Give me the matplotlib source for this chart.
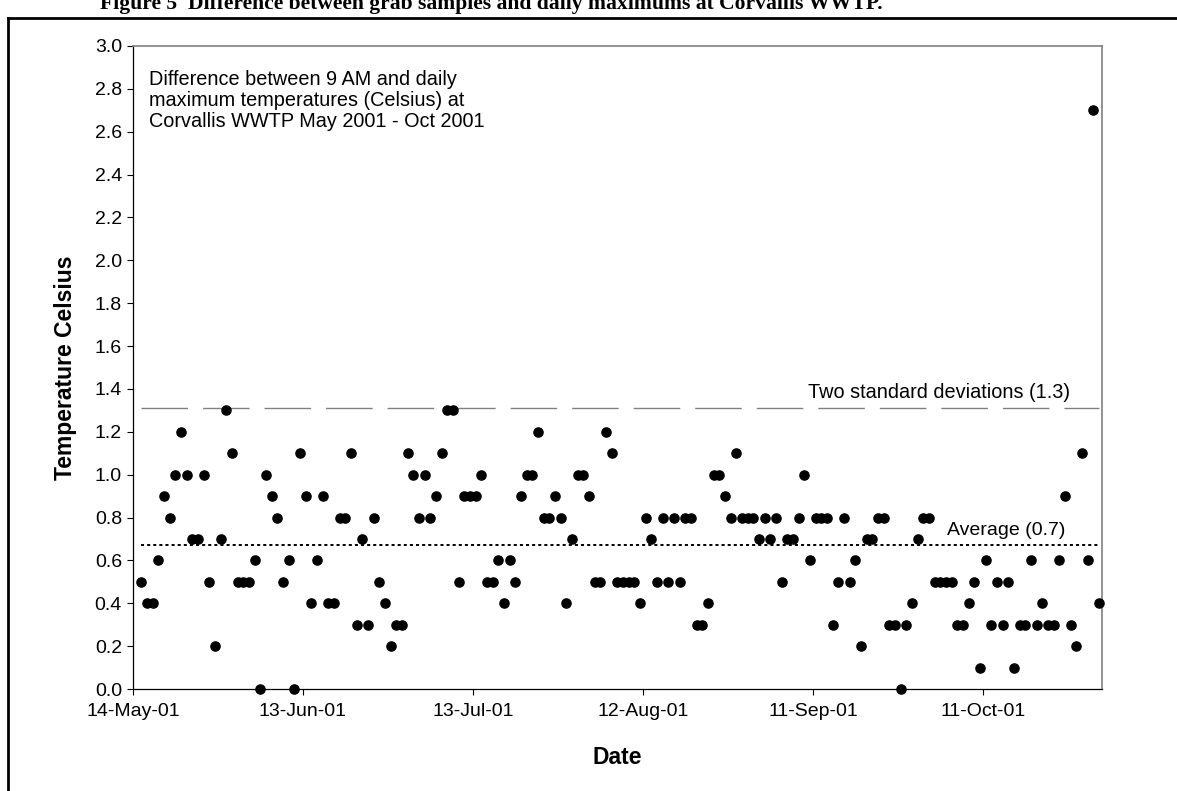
import matplotlib
matplotlib.use("Agg")
import matplotlib.pyplot as plt
import matplotlib.dates as mdates
from matplotlib.lines import Line2D
import numpy as np
import pandas as pd

plt.rcParams['font.family'] = ['Liberation Sans', 'DejaVu Sans']
plt.rcParams['lines.scale_dashes'] = False

# daily readings, 15-May-01 to 31-Oct-01
start_day = "2001-05-15"
diff_c = [0.5, 0.4, 0.4, 0.6, 0.9, 0.8, 1.0, 1.2, 1.0, 0.7,
          0.7, 1.0, 0.5, 0.2, 0.7, 1.3, 1.1, 0.5, 0.5, 0.5,
          0.6, 0.0, 1.0, 0.9, 0.8, 0.5, 0.6, 0.0, 1.1, 0.9,
          0.4, 0.6, 0.9, 0.4, 0.4, 0.8, 0.8, 1.1, 0.3, 0.7,
          0.3, 0.8, 0.5, 0.4, 0.2, 0.3, 0.3, 1.1, 1.0, 0.8,
          1.0, 0.8, 0.9, 1.1, 1.3, 1.3, 0.5, 0.9, 0.9, 0.9,
          1.0, 0.5, 0.5, 0.6, 0.4, 0.6, 0.5, 0.9, 1.0, 1.0,
          1.2, 0.8, 0.8, 0.9, 0.8, 0.4, 0.7, 1.0, 1.0, 0.9,
          0.5, 0.5, 1.2, 1.1, 0.5, 0.5, 0.5, 0.5, 0.4, 0.8,
          0.7, 0.5, 0.8, 0.5, 0.8, 0.5, 0.8, 0.8, 0.3, 0.3,
          0.4, 1.0, 1.0, 0.9, 0.8, 1.1, 0.8, 0.8, 0.8, 0.7,
          0.8, 0.7, 0.8, 0.5, 0.7, 0.7, 0.8, 1.0, 0.6, 0.8,
          0.8, 0.8, 0.3, 0.5, 0.8, 0.5, 0.6, 0.2, 0.7, 0.7,
          0.8, 0.8, 0.3, 0.3, 0.0, 0.3, 0.4, 0.7, 0.8, 0.8,
          0.5, 0.5, 0.5, 0.5, 0.3, 0.3, 0.4, 0.5, 0.1, 0.6,
          0.3, 0.5, 0.3, 0.5, 0.1, 0.3, 0.3, 0.6, 0.3, 0.4,
          0.3, 0.3, 0.6, 0.9, 0.3, 0.2, 1.1, 0.6, 2.7, 0.4]
average_c = 0.67
two_sd_c = 1.31

tick_dates = ["2001-05-14", "2001-06-13", "2001-07-13",
              "2001-08-12", "2001-09-11", "2001-10-11"]
x_min, x_max = "2001-05-14", "2001-11-01"

days = pd.date_range(start_day, periods=len(diff_c), freq="D") + pd.Timedelta(hours=12)

fig = plt.figure(figsize=(11.77, 7.91), dpi=100)
ax = fig.add_axes([133/1177, 102/791, 969/1177, 643/791])

ax.plot(days, [two_sd_c]*len(days), color='#808080', lw=1.0, dashes=(33.5, 10.8))
ax.plot(days, [average_c]*len(days), color='black', lw=1.4, dashes=(2.2, 2.2))
ax.plot(days, diff_c, 'o', color='black', ms=6.6, clip_on=False, zorder=5)

ax.set_xlim(pd.Timestamp(x_min), pd.Timestamp(x_max))
ax.set_ylim(0, 3.0)
ax.set_yticks(np.arange(0, 3.01, 0.2))
ax.yaxis.set_major_formatter(matplotlib.ticker.FormatStrFormatter('%.1f'))
ax.set_xticks([pd.Timestamp(d) for d in tick_dates])
ax.xaxis.set_major_formatter(mdates.DateFormatter('%d-%b-%y'))

ax.tick_params(direction='out', length=4, width=0.8, labelsize=14, pad=4)
ax.tick_params(axis='x', pad=6)
for s in ['top', 'right']:
    ax.spines[s].set_color('#808080')
    ax.spines[s].set_linewidth(1.2)
ax.spines['left'].set_linewidth(0.9)
ax.spines['bottom'].set_linewidth(0.9)

ax.set_ylabel('Temperature Celsius', fontsize=16.5, fontweight='bold', labelpad=13)
ax.set_xlabel('Date', fontsize=16.5, fontweight='bold', labelpad=19)

ax.text(0.016, 0.962, 'Difference between 9 AM and daily\nmaximum temperatures (Celsius) at\nCorvallis WWTP May 2001 - Oct 2001',
        transform=ax.transAxes, fontsize=14.3, va='top', ha='left', linespacing=1.12)
ax.text(pd.Timestamp("2001-10-26 08:00"), two_sd_c + 0.03, 'Two standard deviations (1.3)',
        fontsize=14.3, ha='right', va='bottom')
ax.text(pd.Timestamp("2001-10-25 12:00"), average_c + 0.03, 'Average (0.7)',
        fontsize=14, ha='right', va='bottom')

# page title (cut off at the top) and frame
fig.text(100/1177, 1 - 9/791, 'Figure 5  Difference between grab samples and daily maximums at Corvallis WWTP.',
         fontsize=15.6, fontweight='bold', family='Liberation Serif', va='baseline')
fig.add_artist(Line2D([8/1177, 1], [1 - 18/791, 1 - 18/791], color='black', lw=2.0))
fig.add_artist(Line2D([8/1177, 8/1177], [0, 1 - 18/791], color='black', lw=2.0))

fig.savefig('out.png', dpi=100)
